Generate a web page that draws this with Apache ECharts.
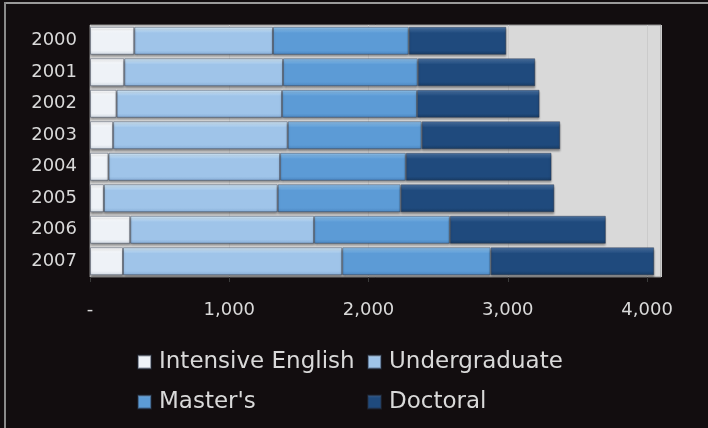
<!DOCTYPE html>
<html>
<head>
<meta charset="utf-8">
<script src="https://cdn.jsdelivr.net/npm/echarts@6/dist/echarts.min.js"></script>
<style>
html,body{margin:0;padding:0;background:#120d0f;}
#chart{width:708px;height:428px;}
</style>
</head>
<body>
<div id="chart"></div>
<script>
const years = ['2000','2001','2002','2003','2004','2005','2006','2007'];
const intensiveEnglish = [318, 246, 191, 166, 133, 100, 289, 237];
const undergraduate = [996, 1140, 1188, 1254, 1232, 1248, 1320, 1574];
const masters = [975, 968, 969, 962, 903, 883, 975, 1066];
const doctoral = [700, 843, 880, 994, 1046, 1103, 1120, 1174];
const seriesNames = ['Intensive English', 'Undergraduate', "Master's", 'Doctoral'];
const xTicks = [0, 1000, 2000, 3000, 4000];

function grad(top, mid, bot) {
  return new echarts.graphic.LinearGradient(0, 0, 0, 1, [
    {offset: 0, color: top},
    {offset: 0.22, color: mid},
    {offset: 0.85, color: mid},
    {offset: 1, color: bot}
  ]);
}
const fills = [
  grad('#ffffff', '#eef2f7', '#cfd7e0'),
  grad('#d9eefc', '#9fc4e9', '#86acd5'),
  grad('#93c6f0', '#5c9bd6', '#4a85bf'),
  grad('#4f78a8', '#1f4a7d', '#173a62')
];
const dataSets = [intensiveEnglish, undergraduate, masters, doctoral];

const chart = echarts.init(document.getElementById('chart'));
const textColor = '#d9d9d9';
const font = 'DejaVu Sans';

const legendPos = [
  {left: 137, top: 349},
  {left: 367, top: 349},
  {left: 137, top: 389},
  {left: 367, top: 389}
];

chart.setOption({
  backgroundColor: '#120d0f',
  animation: false,
  graphic: [
    {type: 'rect', shape: {x: 4, y: 2, width: 704, height: 2}, style: {fill: '#9a9a9a'}},
    {type: 'rect', shape: {x: 4, y: 2, width: 2, height: 426}, style: {fill: '#8a8a8a'}}
  ],
  grid: {
    left: 90, top: 25, width: 571, height: 252,
    show: true, backgroundColor: '#d9d9d9', borderColor: '#8e8e8e', borderWidth: 1
  },
  legend: legendPos.map((p, i) => ({
    data: [seriesNames[i]],
    left: p.left, top: p.top, padding: 0,
    icon: 'rect', itemWidth: 13, itemHeight: 13,
    textStyle: {color: textColor, fontFamily: font, fontSize: 23, lineHeight: 26, padding: [0, 0, 0, 3]}
  })),
  xAxis: {
    type: 'value', min: 0, max: 4100, interval: 1000,
    axisLine: {show: false},
    axisTick: {show: true, length: 5, lineStyle: {color: '#3a3a3a'}},
    splitLine: {show: true, lineStyle: {color: '#cbcbcb'}},
    axisLabel: {
      color: textColor, fontFamily: font, fontSize: 18, margin: 24,
      showMaxLabel: false,
      formatter: v => xTicks.indexOf(v) < 0 ? '' : (v === 0 ? '-' : v.toLocaleString('en-US'))
    }
  },
  yAxis: {
    type: 'category', data: years, inverse: true,
    axisLine: {show: false}, axisTick: {show: false},
    axisLabel: {color: textColor, fontFamily: font, fontSize: 18, margin: 13}
  },
  series: seriesNames.map((name, i) => ({
    name: name, type: 'bar', stack: 'total', barWidth: 28,
    data: dataSets[i],
    itemStyle: {
      color: fills[i], borderColor: 'rgba(40,50,70,0.45)', borderWidth: 1,
      shadowColor: 'rgba(0,0,0,0.35)', shadowBlur: 2, shadowOffsetY: 2
    }
  }))
});
</script>
</body>
</html>
